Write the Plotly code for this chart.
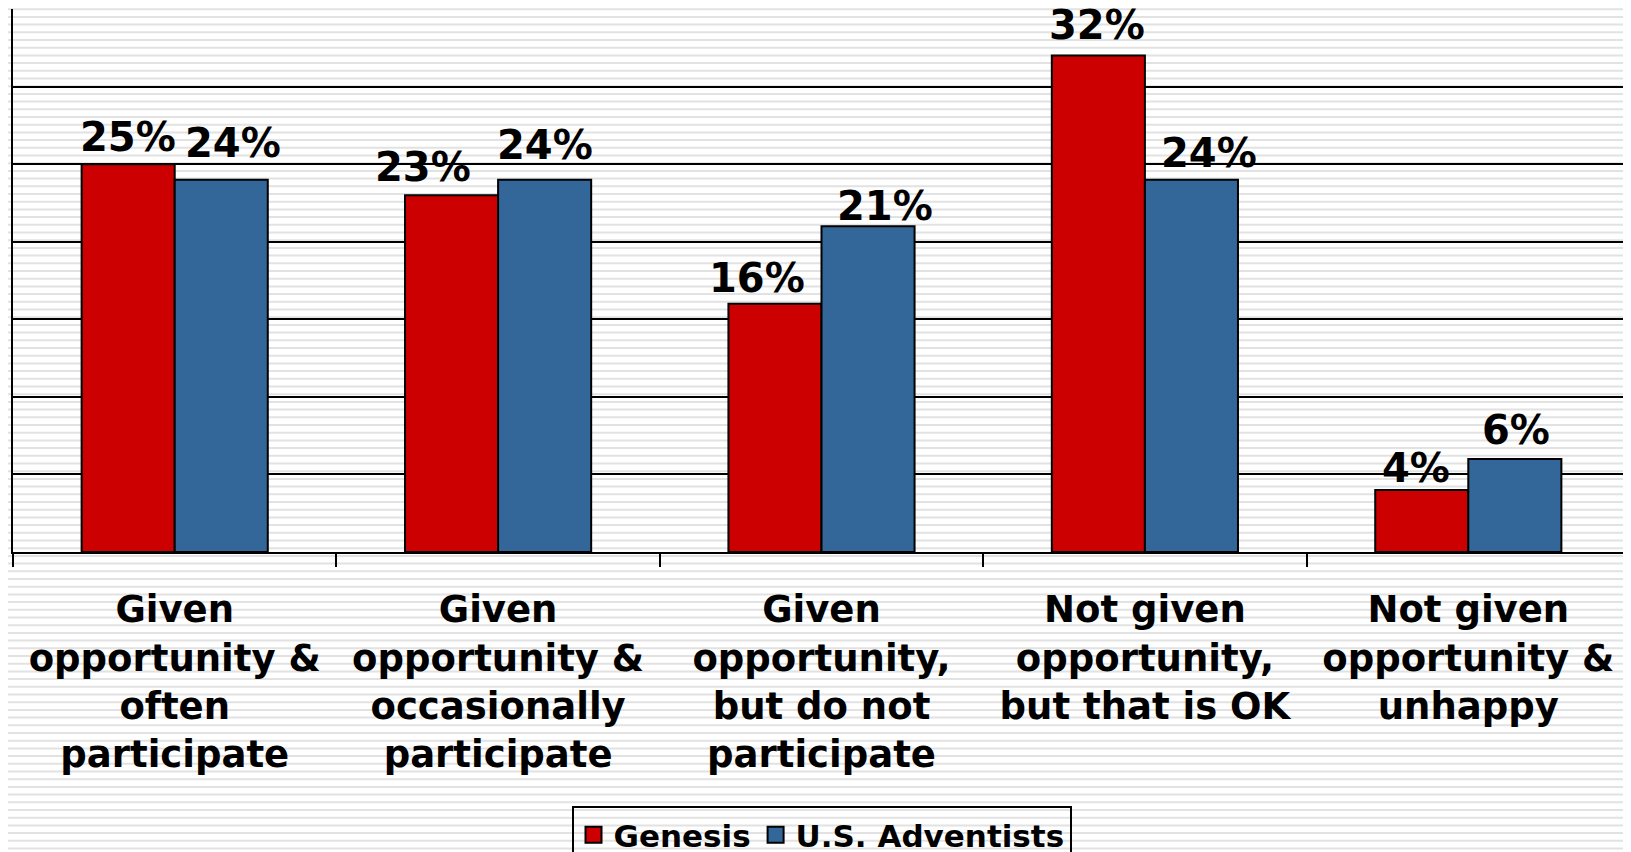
import plotly.graph_objects as go

categories = [
    "Given<br>opportunity &<br>often<br>participate",
    "Given<br>opportunity &<br>occasionally<br>participate",
    "Given<br>opportunity,<br>but do not<br>participate",
    "Not given<br>opportunity,<br>but that is OK",
    "Not given<br>opportunity &<br>unhappy",
]
genesis = [25, 23, 16, 32, 4]
adventists = [24, 24, 21, 24, 6]
series_names = ["Genesis", "U.S. Adventists"]
colors = ["#CC0000", "#336699"]

# label placement tweaks (pixels) -- style only
lbl_dx = [[0, 12], [-29, 0], [-18, 17], [-1, 18], [-6, 1]]
lbl_gap = [[12.5, 21.7], [13.5, 20], [10.4, 5], [16, 11.5], [7, 14]]

W, H = 1631, 852
OFF = 8  # page body margin
ML, MT = 13 - OFF, 9 - OFF
PLOT_BOTTOM, PLOT_RIGHT = 552 - OFF, 1630 - OFF
MB, MR = H - PLOT_BOTTOM, W - PLOT_RIGHT
PW, PH = W - ML - MR, H - MT - MB
FONT = "DejaVu Sans"

fig = go.Figure()
for name, vals, col in zip(series_names, [genesis, adventists], colors):
    fig.add_trace(go.Bar(
        x=categories, y=vals, name=name, showlegend=False,
        marker=dict(color=col, line=dict(color="black", width=2)),
    ))
# legend proxies
for name, col in zip(series_names, colors):
    fig.add_trace(go.Scatter(
        x=[None], y=[None], mode="markers", name=name,
        marker=dict(symbol="square", size=17, color=col, line=dict(color="black", width=2)),
    ))

bar_w = 0.2878 * PW / len(categories)
annotations = []
for i, cat in enumerate(categories):
    for s, vals in enumerate([genesis, adventists]):
        off = (-0.5 if s == 0 else 0.5) * bar_w
        annotations.append(dict(
            x=cat, y=vals[i], xref="x", yref="y",
            text=f"{vals[i]}%", showarrow=False,
            xanchor="center", yanchor="bottom",
            xshift=off + lbl_dx[i][s], yshift=lbl_gap[i][s] - 10,
            font=dict(family=FONT, size=40, color="black", weight="bold"),
        ))

# striped background (window pixel rows -> paper coords)
period = 7.7
segs = []
py = 1.5
while py < H + 2:
    yp = (PLOT_BOTTOM - (py - OFF)) / PH
    segs.append(f"M-0.02,{yp:.5f}H1.02")
    py += period
shapes = [dict(type="path", xref="paper", yref="paper", path="".join(segs),
               line=dict(color="#e2e2e2", width=2), layer="below")]

fig.update_layout(
    width=W, height=H, autosize=False,
    margin=dict(l=ML, r=MR, t=MT, b=MB, pad=0, autoexpand=False),
    paper_bgcolor="white", plot_bgcolor="rgba(0,0,0,0)",
    barmode="group", bargap=0.4244, bargroupgap=0,
    font=dict(family=FONT, color="black", weight="bold"),
    annotations=annotations, shapes=shapes,
    legend=dict(orientation="h", x=0.5, xanchor="center",
                y=(PLOT_BOTTOM - (806 - OFF)) / PH, yanchor="top",
                bordercolor="black", borderwidth=2, bgcolor="rgba(0,0,0,0)",
                font=dict(family=FONT, size=31, color="black", weight="bold")),
    xaxis=dict(type="category", showline=True, linecolor="black", linewidth=2, automargin=False,
               ticks="outside", tickson="boundaries", ticklen=13, tickwidth=1.5, tickcolor="black",
               ticklabelstandoff=24,
               tickfont=dict(family=FONT, size=37, color="black", weight="bold"),
               showgrid=False),
    yaxis=dict(range=[0, 35], dtick=5, showgrid=True, gridcolor="black", gridwidth=1.5,
               automargin=False,
               showticklabels=False, ticks="", showline=True, linecolor="black", linewidth=2,
               zeroline=False),
)

fig.write_html("out.html")
